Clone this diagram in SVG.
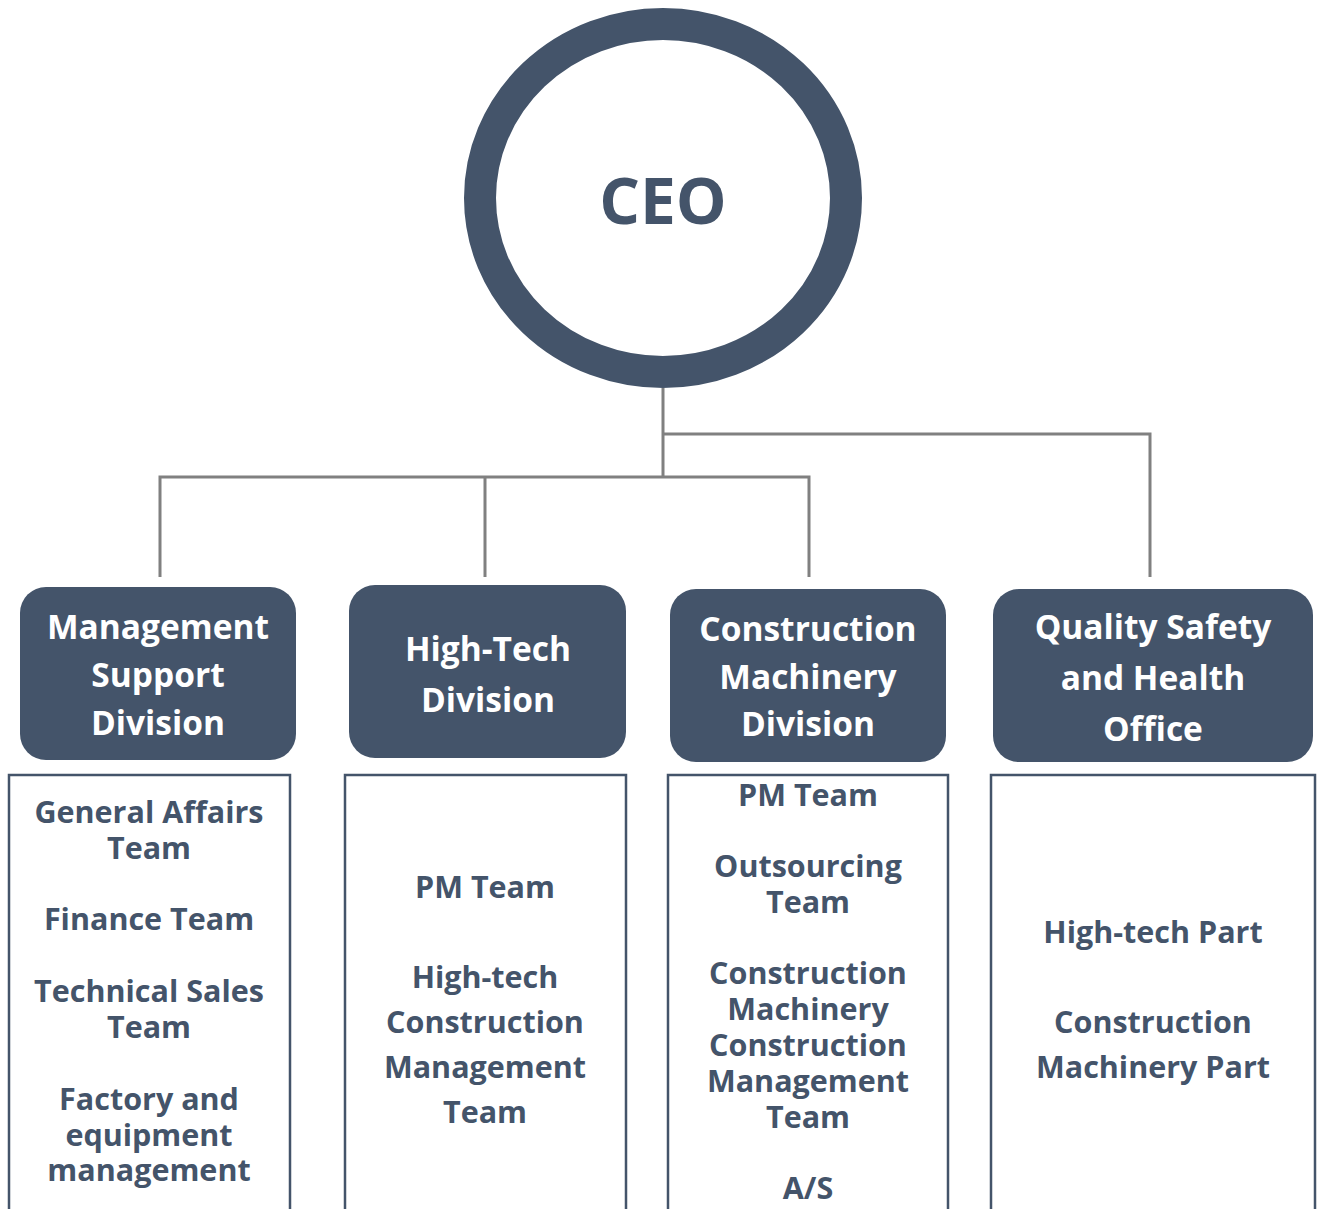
<svg xmlns="http://www.w3.org/2000/svg" width="1317" height="1209" viewBox="0 0 1317 1209">
<style>
.div{fill:#44546A}
.dt{fill:#FFFFFF;font-family:"Open Sans",Lato,"Liberation Sans",sans-serif;font-weight:700;font-size:33.5px;text-anchor:middle}
.team{fill:#FFFFFF;stroke:#44546A;stroke-width:2.5}
.tt{fill:#44546A;font-family:"Open Sans",Lato,"Liberation Sans",sans-serif;font-weight:700;font-size:30.5px;text-anchor:middle}
.con{fill:none;stroke:#808080;stroke-width:3}
</style>
<rect width="1317" height="1209" fill="#FFFFFF"/>
<g id="connectors">
<path class="con" d="M663 388 V477 M160 577 V477 H809 V577 M485 477 V577 M663 434 H1150 V577"/>
</g>
<g id="ceo">
<ellipse cx="663" cy="198" rx="183" ry="174" fill="#FFFFFF" stroke="#44546A" stroke-width="32"/>
<text x="663" y="224" fill="#44546A" font-family="'Open Sans',Lato,'Liberation Sans',sans-serif" font-weight="700" font-size="64" text-anchor="middle">CEO</text>
</g>
<g id="management-support-division">
<rect class="div" x="20" y="587" width="276" height="173" rx="26"/>
<text class="dt" x="158" y="639">Management</text>
<text class="dt" x="158" y="687">Support</text>
<text class="dt" x="158" y="735">Division</text>
</g>
<g id="high-tech-division">
<rect class="div" x="349" y="585" width="277" height="173" rx="26"/>
<text class="dt" x="488" y="661" font-size="37">High-Tech</text>
<text class="dt" x="488" y="712" font-size="37">Division</text>
</g>
<g id="construction-machinery-division">
<rect class="div" x="670" y="589" width="276" height="173" rx="26"/>
<text class="dt" x="808" y="641">Construction</text>
<text class="dt" x="808" y="689">Machinery</text>
<text class="dt" x="808" y="736">Division</text>
</g>
<g id="quality-safety-health-office">
<rect class="div" x="993" y="589" width="320" height="173" rx="26"/>
<text class="dt" x="1153" y="639" font-size="38.5">Quality Safety</text>
<text class="dt" x="1153" y="690" font-size="38.5">and Health</text>
<text class="dt" x="1153" y="741" font-size="38.5">Office</text>
</g>
<g id="management-support-teams">
<path class="team" d="M9 1215 V775 H290 V1215"/>
<text class="tt" x="149" y="823">General Affairs</text>
<text class="tt" x="149" y="859">Team</text>
<text class="tt" x="149" y="930">Finance Team</text>
<text class="tt" x="149" y="1002">Technical Sales</text>
<text class="tt" x="149" y="1038">Team</text>
<text class="tt" x="149" y="1110">Factory and</text>
<text class="tt" x="149" y="1146">equipment</text>
<text class="tt" x="149" y="1181">management</text>
</g>
<g id="high-tech-teams">
<path class="team" d="M345 1215 V775 H626 V1215"/>
<text class="tt" x="485" y="898">PM Team</text>
<text class="tt" x="485" y="988">High-tech</text>
<text class="tt" x="485" y="1033">Construction</text>
<text class="tt" x="485" y="1078">Management</text>
<text class="tt" x="485" y="1123">Team</text>
</g>
<g id="construction-machinery-teams">
<path class="team" d="M668 1215 V775 H948 V1215"/>
<text class="tt" x="808" y="806">PM Team</text>
<text class="tt" x="808" y="877">Outsourcing</text>
<text class="tt" x="808" y="913">Team</text>
<text class="tt" x="808" y="984">Construction</text>
<text class="tt" x="808" y="1020">Machinery</text>
<text class="tt" x="808" y="1056">Construction</text>
<text class="tt" x="808" y="1092">Management</text>
<text class="tt" x="808" y="1128">Team</text>
<text class="tt" x="808" y="1199">A/S</text>
</g>
<g id="quality-safety-health-parts">
<path class="team" d="M991 1215 V775 H1315 V1215"/>
<text class="tt" x="1153" y="943">High-tech Part</text>
<text class="tt" x="1153" y="1033">Construction</text>
<text class="tt" x="1153" y="1078">Machinery Part</text>
</g>
</svg>
